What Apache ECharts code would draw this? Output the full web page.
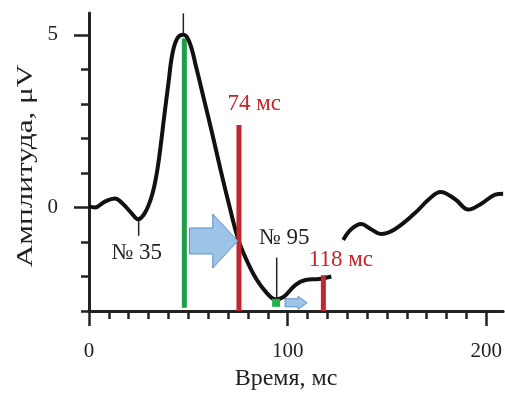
<!DOCTYPE html>
<html>
<head>
<meta charset="utf-8">
<script src="https://cdn.jsdelivr.net/npm/echarts@6/dist/echarts.min.js"></script>
<style>
  html, body { margin: 0; padding: 0; background: #fff; }
  #chart { width: 505px; height: 396px; }
</style>
</head>
<body>
<div id="chart"></div>
<script>
// waveform (ms / uV), null = gap in the trace
const timeMs = [0, 3, 8, 13, 17, 21.5, 24.6, 28, 31.5, 34, 36, 38, 40, 42, 44.5, 47.5, 50.5, 54, 58, 62, 66, 70, 75, 79, 84, 89, 94, 98, 104, 109, 116, 122, null,
  128, 132, 137, 142, 147, 154, 164, 171, 177, 184.5, 191, 197.5, 204.5, 208.5];
const amplitude = [0.03, 0, 0.17, 0.26, 0.11, -0.17, -0.34, -0.17, 0.31, 0.95, 1.75, 2.7, 3.6, 4.45, 4.9, 5.0, 4.8, 4.05, 3.1, 2.15, 1.15, 0.2, -0.9, -1.48, -2.05, -2.44, -2.66, -2.59, -2.24, -2.1, -2.07, -2.0, null,
  -0.94, -0.63, -0.48, -0.63, -0.77, -0.63, -0.17, 0.23, 0.45, 0.23, -0.06, 0.11, 0.37, 0.4];

// markers: [time, bottom, top]
const greenBars = [[48, -2.9, 4.9]];
const redBars = [[75.5, -3, 2.39], [118, -3, -1.96]];
const pointerLines = [[25, -0.34, -0.82], [94.5, -1.45, -2.6], [47.5, 5.0, 5.62]];
const greenPoint = [[94.2, -2.76]];
// arrows: [tail time, tip time, amplitude]
const arrows = [[50.6, 74.9, -0.97], [98.7, 109.8, -2.76]];
// annotations: [time, amplitude, text]
const redNotes = [[83.2, 3.01, '74 мс'], [126.8, -1.53, '118 мс']];
const blackNotes = [[98.2, -0.88, '№ 95'], [24, -1.31, '№ 35']];

const xTicks = [0, 10, 20, 30, 40, 50, 60, 70, 80, 90, 100, 110, 120, 130, 140, 150, 160, 170, 180, 190, 200];
const xLabels = [0, 100, 200];
const yTicks = [-3, -2, -1, 0, 1, 2, 3, 4, 5];
const yLabels = [0, 5];

const serif = '"Liberation Serif", "DejaVu Serif", serif';
const axisColor = '#222';

const curve = timeMs.map(function (t, i) {
  return t === null ? [null, null] : [t, amplitude[i]];
});

function barItem(color, w) {
  return function (params, api) {
    var p1 = api.coord([api.value(0), api.value(1)]);
    var p2 = api.coord([api.value(0), api.value(2)]);
    return {
      type: 'rect',
      shape: { x: p1[0] - w / 2, y: p2[1], width: w, height: p1[1] - p2[1] },
      style: { fill: color }
    };
  };
}

function noteItem(color) {
  return function (params, api) {
    var p = api.coord([api.value(0), api.value(1)]);
    return {
      type: 'text',
      style: {
        text: api.value(2), x: p[0], y: p[1], fill: color,
        font: '23px ' + serif, align: 'center', verticalAlign: 'middle'
      }
    };
  };
}

var chart = echarts.init(document.getElementById('chart'));

var option = {
  animation: false,
  grid: { left: 89, right: 0, top: 13, bottom: 79 },
  // y title is stretched along its length in the original
  graphic: [{
    type: 'text', x: 26, y: 166, rotation: Math.PI / 2, scaleX: 1.3,
    style: {
      text: 'Амплитуда, μV', font: '24px ' + serif, fill: axisColor,
      align: 'center', verticalAlign: 'middle'
    }
  }],
  xAxis: [
    {
      type: 'value', min: 0, max: 208.5, position: 'bottom',
      name: 'Время, мс', nameLocation: 'middle', nameGap: 55,
      nameTextStyle: { fontFamily: serif, fontSize: 24, color: axisColor, padding: [0, 20, 0, 0] },
      axisLine: { onZero: false, lineStyle: { color: axisColor, width: 3 } },
      axisTick: { customValues: xTicks, length: 8, lineStyle: { color: axisColor, width: 2.5 } },
      axisLabel: { customValues: xLabels, margin: 30, fontFamily: serif, fontSize: 21, color: axisColor },
      splitLine: { show: false }
    },
    {
      type: 'value', min: 0, max: 208.5, position: 'bottom',
      axisLine: { show: false, onZero: false },
      axisTick: { customValues: xLabels, length: 15, lineStyle: { color: axisColor, width: 2.5 } },
      axisLabel: { show: false },
      splitLine: { show: false }
    }
  ],
  yAxis: [
    {
      type: 'value', min: -3, max: 5.63, position: 'left',
      axisLine: { onZero: false, lineStyle: { color: axisColor, width: 3 } },
      axisTick: { customValues: yTicks, length: 8, lineStyle: { color: axisColor, width: 2.5 } },
      axisLabel: { customValues: yLabels, margin: 31, fontFamily: serif, fontSize: 21, color: axisColor },
      splitLine: { show: false }
    },
    {
      type: 'value', min: -3, max: 5.63, position: 'left',
      axisLine: { show: false, onZero: false },
      axisTick: { customValues: yLabels, length: 15, lineStyle: { color: axisColor, width: 2.5 } },
      axisLabel: { show: false },
      splitLine: { show: false }
    }
  ],
  series: [
    {
      type: 'line', data: curve, smooth: 0.4, connectNulls: false,
      showSymbol: false, lineStyle: { color: '#111', width: 4 }, z: 3
    },
    {
      type: 'custom', data: pointerLines, z: 2,
      renderItem: function (params, api) {
        var p1 = api.coord([api.value(0), api.value(1)]);
        var p2 = api.coord([api.value(0), api.value(2)]);
        return {
          type: 'line',
          shape: { x1: p1[0], y1: p1[1], x2: p2[0], y2: p2[1] },
          style: { stroke: '#222', lineWidth: 1.5 }
        };
      }
    },
    { type: 'custom', data: greenBars, renderItem: barItem('#1f9e4a', 5), z: 2 },
    { type: 'custom', data: redBars, renderItem: barItem('#c1272d', 5), z: 4 },
    {
      type: 'custom', data: arrows, z: 5,
      renderItem: function (params, api) {
        var a = api.coord([api.value(0), api.value(2)]);
        var b = api.coord([api.value(1), api.value(2)]);
        var big = params.dataIndex === 0;
        var body = big ? 13 : 4, head = big ? 27 : 6.5, hl = big ? 25 : 9;
        var y = a[1], hx = b[0] - hl;
        return {
          type: 'polygon',
          shape: { points: [[a[0], y - body], [hx, y - body], [hx, y - head], [b[0], y], [hx, y + head], [hx, y + body], [a[0], y + body]] },
          style: { fill: '#9dc3e6', stroke: '#5b8fc9', lineWidth: 1 }
        };
      }
    },
    {
      type: 'custom', data: greenPoint, z: 6,
      renderItem: function (params, api) {
        var p = api.coord([api.value(0), api.value(1)]);
        return {
          type: 'rect',
          shape: { x: p[0] - 4, y: p[1] - 4, width: 8, height: 8 },
          style: { fill: '#22b04b' }
        };
      }
    },
    { type: 'custom', data: redNotes, renderItem: noteItem('#c1272d'), z: 6 },
    { type: 'custom', data: blackNotes, renderItem: noteItem('#222'), z: 6 }
  ]
};

chart.setOption(option);
</script>
</body>
</html>
